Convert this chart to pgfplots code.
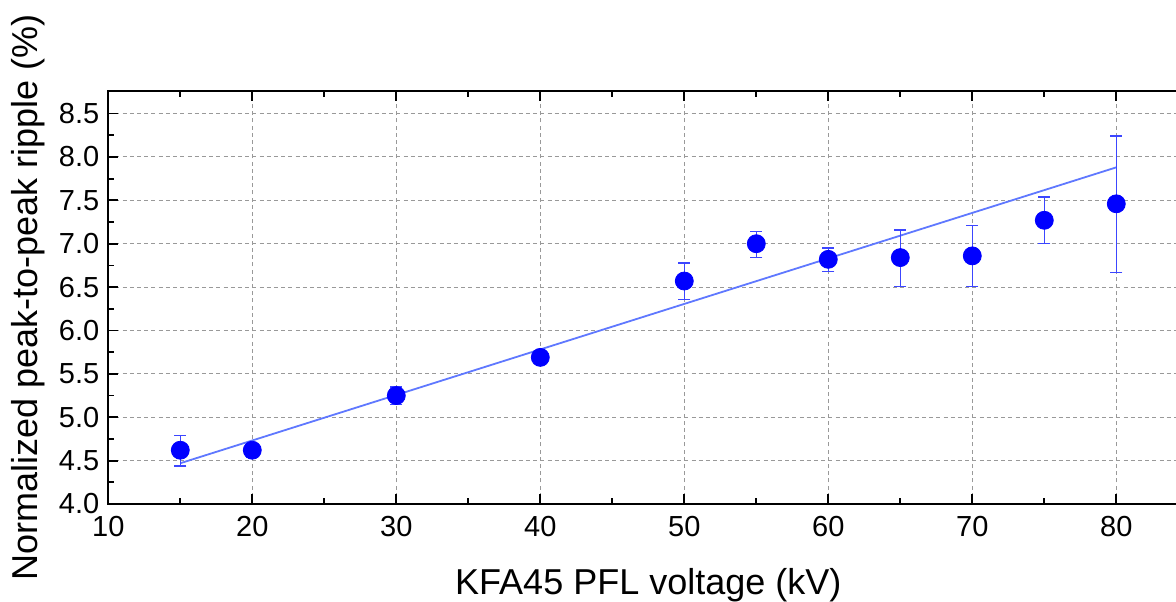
\documentclass[border=0pt]{standalone}
\usepackage{fontspec}
\setmainfont{Liberation Sans}
\usepackage{pgfplots}
\pgfplotsset{compat=1.18}

\definecolor{markblue}{RGB}{0,0,255}
\definecolor{errblue}{RGB}{60,70,255}
\definecolor{fitblue}{RGB}{95,120,255}

\begin{document}
\begin{tikzpicture}
\begin{axis}[
  name=ax,
  scale only axis,
  width=540pt,
  height=206.5pt,
  xmin=10, xmax=85,
  ymin=4, ymax=8.76,
  xtick={10,20,...,80},
  ytick={4,4.5,...,8.5},
  minor x tick num=1,
  minor y tick num=1,
  major tick length=5pt,
  minor tick length=2.8pt,
  tick style={black, line width=0.9pt},
  axis line style={black, line width=1pt},
  grid=major,
  major grid style={gray!80, line width=0.5pt, dash pattern=on 2pt off 1.6pt},
  /pgf/number format/assume math mode=true,
  tick label style={font=\fontsize{14.5}{17}\selectfont},
  xticklabel style={yshift=-2.5pt},
  yticklabel style={xshift=-1pt, /pgf/number format/.cd, fixed, fixed zerofill, precision=1},
  xlabel={KFA45 PFL voltage (kV)},
  ylabel={Normalized peak-to-peak ripple (\%)},
  label style={font=\fontsize{18}{21}\selectfont},
  xlabel style={yshift=-9pt},
  clip=false,
]

% linear fit
\addplot[fitblue, line width=0.9pt, no marks] coordinates {
  (15,4.47) (80,7.88)
};

% measurements
\addplot[only marks, mark=*, mark size=4.5pt,
  mark options={fill=markblue, draw=markblue},
  error bars/.cd, y dir=both, y explicit,
  error bar style={errblue, line width=0.7pt},
  error mark options={rotate=90, mark size=3pt, errblue, line width=0.7pt}]
  table[x=x, y=y, y error plus=ep, y error minus=em] {
    x  y    ep   em
    15 4.62 0.17 0.18
    20 4.62 0.08 0.08
    30 5.25 0.10 0.10
    40 5.69 0.06 0.06
    50 6.57 0.21 0.21
    55 7.00 0.14 0.16
    60 6.82 0.13 0.14
    65 6.84 0.32 0.33
    70 6.86 0.35 0.35
    75 7.27 0.27 0.27
    80 7.46 0.78 0.79
  };

\end{axis}
\pgfresetboundingbox
\useasboundingbox (-54.15pt,-48.5pt) rectangle (533.85pt,252pt);
\end{tikzpicture}
\end{document}
